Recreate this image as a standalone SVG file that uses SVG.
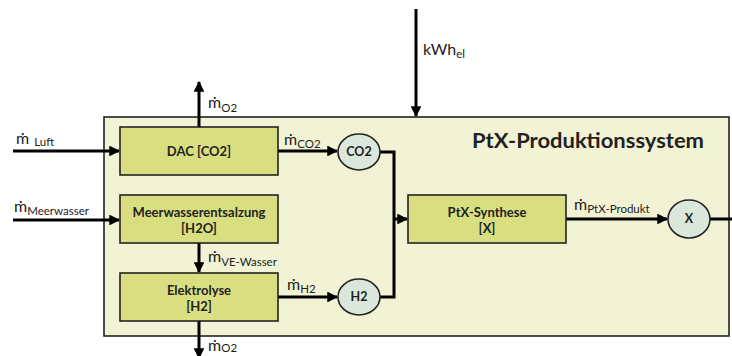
<svg xmlns="http://www.w3.org/2000/svg" width="732" height="356" viewBox="0 0 732 356">
<defs>
<marker id="ah" viewBox="0 0 10 10" refX="9" refY="5" markerWidth="3.6" markerHeight="3.6" orient="auto" markerUnits="strokeWidth">
<path d="M0,0 L10,5 L0,10 z" fill="#000"/>
</marker>
<style>
.sys{fill:#f2f3d4;stroke:#222;stroke-width:1.6}
.proc{fill:#d9df80;stroke:#222;stroke-width:1.6}
.node{fill:#dbe7db;stroke:#222;stroke-width:1.6}
.ln{fill:none;stroke:#000;stroke-width:3}
.ar{fill:none;stroke:#000;stroke-width:3;marker-end:url(#ah)}
text{font-family:Lato,"Open Sans","Liberation Sans",sans-serif;fill:#222}
.b{font-weight:bold;font-size:13px;text-anchor:middle}
.bn{font-weight:bold;font-size:12.5px;text-anchor:middle}
.m{font-size:16px}
.s{font-size:11.5px}
.t{font-weight:bold;font-size:21.5px}
</style>
</defs>
<g id="system">
<rect class="sys" x="104" y="117" width="625" height="219"/>
<text class="t" x="472" y="148" textLength="232" lengthAdjust="spacingAndGlyphs">PtX-Produktionssystem</text>
</g>
<g id="connectors">
<line class="ar" x1="13" y1="151" x2="119" y2="151"/>
<line class="ar" x1="13" y1="220" x2="119" y2="220"/>
<line class="ar" x1="199" y1="127" x2="199" y2="82"/>
<line class="ar" x1="199" y1="243" x2="199" y2="272"/>
<line class="ar" x1="199" y1="321" x2="199" y2="358"/>
<line class="ar" x1="278" y1="151" x2="337" y2="151"/>
<line class="ar" x1="278" y1="297" x2="337" y2="297"/>
<polyline class="ln" points="380,152 394,152 394,297 380,297"/>
<line class="ar" x1="394" y1="219" x2="407" y2="219"/>
<line class="ar" x1="566" y1="219" x2="667" y2="219"/>
<line class="ln" x1="710" y1="219" x2="732" y2="219"/>
<line class="ar" x1="416" y1="9" x2="416" y2="116"/>
</g>
<g id="labels">
<text x="16" y="144"><tspan class="m">ṁ</tspan><tspan class="s" dx="5" dy="2">Luft</tspan></text>
<text x="14" y="212"><tspan class="m">ṁ</tspan><tspan class="s" dy="3">Meerwasser</tspan></text>
<text x="208" y="108"><tspan class="m">ṁ</tspan><tspan class="s" dy="4">O2</tspan></text>
<text x="284" y="145"><tspan class="m">ṁ</tspan><tspan class="s" dy="3">CO2</tspan></text>
<text x="208" y="262"><tspan class="m">ṁ</tspan><tspan class="s" dy="4">VE-Wasser</tspan></text>
<text x="287" y="290"><tspan class="m">ṁ</tspan><tspan class="s" dy="3">H2</tspan></text>
<text x="208" y="351"><tspan class="m">ṁ</tspan><tspan class="s" dy="1">O2</tspan></text>
<text x="574" y="210"><tspan class="m">ṁ</tspan><tspan class="s" dy="3">PtX-Produkt</tspan></text>
<text x="423" y="55"><tspan class="m">kWh</tspan><tspan class="s" dy="3">el</tspan></text>
</g>
<g id="dac">
<rect class="proc" x="120" y="127" width="158" height="48"/>
<text class="b" x="199" y="156">DAC [CO2]</text>
</g>
<g id="entsalzung">
<rect class="proc" x="120" y="195" width="158" height="48"/>
<text class="b" x="199" y="217">Meerwasserentsalzung</text>
<text class="b" x="199" y="233">[H2O]</text>
</g>
<g id="elektrolyse">
<rect class="proc" x="120" y="273" width="158" height="48"/>
<text class="b" x="199" y="295">Elektrolyse</text>
<text class="b" x="199" y="311">[H2]</text>
</g>
<g id="synthese">
<rect class="proc" x="408" y="195" width="158" height="48"/>
<text class="b" x="487" y="217">PtX-Synthese</text>
<text class="b" x="487" y="233">[X]</text>
</g>
<g id="co2">
<ellipse class="node" cx="359" cy="152" rx="21" ry="18"/>
<text class="bn" x="359" y="156">CO2</text>
</g>
<g id="h2">
<ellipse class="node" cx="359" cy="297" rx="21" ry="18"/>
<text class="bn" x="359" y="301">H2</text>
</g>
<g id="x">
<ellipse class="node" cx="689" cy="219" rx="21" ry="19"/>
<text class="bn" x="689" y="223">X</text>
</g>
</svg>
